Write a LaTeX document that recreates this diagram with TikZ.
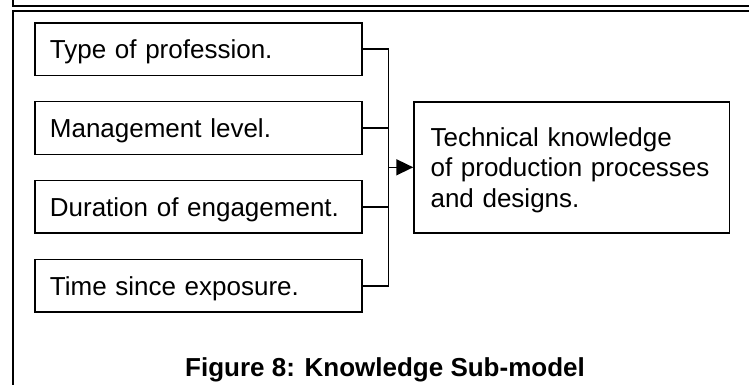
\documentclass[tikz,border=0pt]{standalone}
\usepackage{fontspec}
\setmainfont{Liberation Sans}
\usetikzlibrary{arrows.meta}

\tikzset{
  every picture/.style={line width=1.6pt},
  factor/.style={draw, line width=1.6pt, text width=296.6pt, inner xsep=15.2pt,
    minimum height=52.6pt, align=left, text height=18.6pt, text depth=0pt,
    font=\fontsize{26}{30.4}\selectfont},
  outcome/.style={draw, line width=1.6pt, text width=282.3pt, inner xsep=16.5pt,
    minimum height=131pt, align=left, text height=18.6pt, text depth=60.8pt,
    font=\fontsize{26}{30.4}\selectfont},
  link/.style={line width=1.6pt},
  frame/.style={line width=1.8pt},
}

\begin{document}
\begin{tikzpicture}[x=1pt, y=-1pt]
  \useasboundingbox (0,0) rectangle (749,385);
  \clip (0,0) rectangle (749,385);

  % page frames: bottom of the box above, top of the figure's box
  \draw[frame] (13.3,-10) -- (13.3,6) -- (760,6);
  \draw[frame] (760,11) -- (13.3,11) -- (13.3,395);

  % contributing factors
  \node[factor] (f1) at (198.2,49.2)  {Type of profession.};
  \node[factor] (f2) at (198.2,128.0) {Management level.};
  \node[factor] (f3) at (198.2,206.7) {Duration of engagement.};
  \node[factor] (f4) at (198.2,285.7) {Time since exposure.};

  % resulting knowledge
  \node[outcome] (k) at (571.7,167.3)
    {Technical knowledge\\of production processes\\and designs.};

  % collecting bus
  \coordinate (bus) at (388.3,167.3);
  \draw[link] (f1.east) -| (bus |- f4.east) -- (f4.east);
  \draw[link] (f2.east) -- (f2.east -| bus);
  \draw[link] (f3.east) -- (f3.east -| bus);
  \draw[link, -{Triangle[length=17pt, width=16pt]}] (bus) -- (k.west);

  % caption
  \node[anchor=base, font=\fontsize{26}{30}\selectfont\bfseries] (cap)
    at (385,376.7) {Figure 8: Knowledge Sub-model};
\end{tikzpicture}
\end{document}
